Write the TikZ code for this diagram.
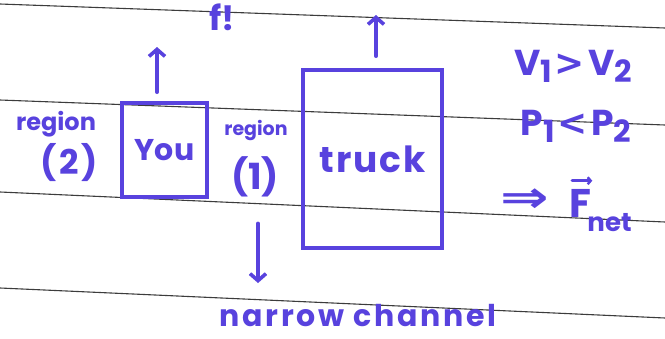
\documentclass[tikz,border=0pt]{standalone}
\usepackage{fontspec}
\usepackage{graphicx}
\setmainfont{Poppins}
\newfontfamily\symfont{DejaVu Sans}
\usetikzlibrary{arrows.meta}
\definecolor{ink}{RGB}{88,66,222}
\definecolor{ruling}{RGB}{60,60,60}
\newcommand{\subsc}[1]{\raisebox{-0.2em}{\scalebox{0.85}{#1}}}
\newcommand{\bigrel}[1]{\kern3pt{\symfont\bfseries #1}\kern3pt}
\begin{document}
\begin{tikzpicture}[x=1pt,y=-1pt,
  ruleline/.style={ruling,line width=1.1pt},
  pen/.style={ink,line width=3.6pt,line cap=round,line join=round},
  penbox/.style={draw=ink,line width=3.6pt,rectangle,inner sep=0pt,text=ink},
  penarrow/.style={pen,-{Straight Barb[length=7pt,width=16pt,line width=3.6pt]}},
  inktext/.style={text=ink,inner sep=0pt},
]
\useasboundingbox (0,0) rectangle (665,338);
\clip (0,0) rectangle (665,338);
\fill[white] (0,0) rectangle (665,338);
% ruled lines
\draw[ruleline] (0,4) -- (665,28);
\draw[ruleline] (0,100) -- (665,125);
\draw[ruleline] (0,192) -- (665,222);
\draw[ruleline] (0,288) -- (665,318);
% top text
\node[inktext,anchor=base,font=\fontsize{34}{38}\selectfont\bfseries] (topf) at (222,30) {f!};
% boxes
\node[penbox,minimum width=85pt,minimum height=94pt,font=\fontsize{30}{34}\selectfont\bfseries] (you) at (164.5,150) {You};
\node[penbox,minimum width=139pt,minimum height=178pt,font=\fontsize{36}{40}\selectfont\bfseries] (truck) at (372.5,159) {\addfontfeature{LetterSpace=5}truck};
% region labels
\node[inktext,font=\fontsize{24}{26}\selectfont\bfseries] (r2) at (56,124) {region};
\node[inktext,font=\fontsize{34}{38}\selectfont\bfseries] (n2) at (69,163) {(\kern3pt2\kern3pt)};
\node[inktext,font=\fontsize{19}{22}\selectfont\bfseries] (r1) at (256,130) {region};
\node[inktext,font=\fontsize{36}{40}\selectfont\bfseries] (n1) at (255,177) {(1)};
% arrows
\coordinate (youtip) at (157,47);
\coordinate (trucktip) at (376,15);
\coordinate (downtip) at (258,283);
\draw[penarrow] (you.north -| youtip) ++(0,-9) -- (youtip);
\draw[penarrow] (truck.north -| trucktip) ++(0,-12) -- (trucktip);
\draw[penarrow] (n1.south -| downtip) ++(0,26) -- (downtip);
% right side relations
\node[inktext,font=\fontsize{36}{40}\selectfont\bfseries] (vrel) at (573,66) {V\subsc{1}\bigrel{>}V\subsc{2}};
\node[inktext,font=\fontsize{36}{40}\selectfont\bfseries] (prel) at (576,126) {P\subsc{1}\bigrel{<}P\subsc{2}};
\node[inktext,font=\fontsize{40}{44}\selectfont\bfseries] (imp) at (525,201) {\scalebox{1.45}[1.1]{\symfont\bfseries ⇒}};
\node[inktext,font=\fontsize{40}{44}\selectfont\bfseries,anchor=base west] (F) at (569,217) {F};
\node[inktext,font=\fontsize{26}{28}\selectfont\bfseries,anchor=north west] (net) at ([xshift=-4pt,yshift=4pt]F.south east) {net};
\draw[ink,line width=3pt,line cap=round,-{Straight Barb[length=3pt,width=7pt,line width=2.4pt]}] ([xshift=3pt,yshift=8pt]F.north west) -- ([xshift=1pt,yshift=8pt]F.north east);
% bottom label
\node[inktext,font=\fontsize{30}{34}\selectfont\bfseries] (chan) at (358,316) {\addfontfeature{LetterSpace=9}narrow channel};
\end{tikzpicture}
\end{document}
